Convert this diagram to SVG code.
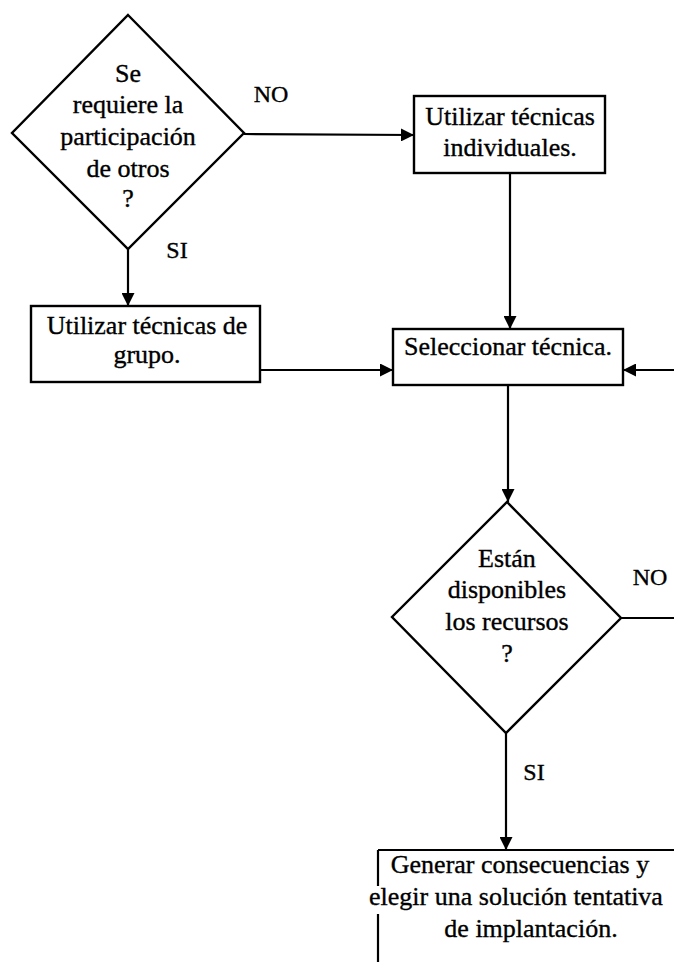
<svg xmlns="http://www.w3.org/2000/svg" width="674" height="962" viewBox="0 0 674 962">
  <style>
    .shape { fill: #ffffff; stroke: #000000; stroke-width: 2.4; }
    .edge { fill: none; stroke: #000000; stroke-width: 2.2; }
    .label { font-family: "Liberation Serif", "Times New Roman", serif; font-size: 26px; fill: #000000; stroke: #000000; stroke-width: 0.35; text-anchor: middle; }
    .tag { font-family: "Liberation Serif", "Times New Roman", serif; font-size: 24px; fill: #000000; stroke: #000000; stroke-width: 0.35; text-anchor: middle; }
  </style>
  <defs>
    <marker id="arrow" viewBox="0 0 10 10" refX="10" refY="5" markerWidth="13" markerHeight="13" markerUnits="userSpaceOnUse" orient="auto">
      <path d="M0,0 L10,5 L0,10 Z" fill="#000000"/>
    </marker>
  </defs>
  <rect width="674" height="962" fill="#ffffff"/>

  <!-- connectors -->
  <g id="connectors">
    <line class="edge" x1="244" y1="134" x2="414" y2="135" marker-end="url(#arrow)"/>
    <line class="edge" x1="128" y1="249" x2="128" y2="306" marker-end="url(#arrow)"/>
    <line class="edge" x1="510" y1="173" x2="510" y2="329" marker-end="url(#arrow)"/>
    <line class="edge" x1="260" y1="370" x2="393" y2="370" marker-end="url(#arrow)"/>
    <line class="edge" x1="674" y1="370" x2="623" y2="370" marker-end="url(#arrow)"/>
    <line class="edge" x1="508" y1="385" x2="508" y2="502" marker-end="url(#arrow)"/>
    <line class="edge" x1="621" y1="618" x2="674" y2="618"/>
    <line class="edge" x1="506" y1="733" x2="506" y2="850" marker-end="url(#arrow)"/>
    <text class="tag" x="271" y="102">NO</text>
    <text class="tag" x="177" y="258">SI</text>
    <text class="tag" x="650" y="585">NO</text>
    <text class="tag" x="534" y="780">SI</text>
  </g>

  <!-- decision: participation of others -->
  <g id="decision-participacion">
    <polygon class="shape" points="128,15 244,133 128,249 12,133"/>
    <text class="label" x="128" y="82">Se</text>
    <text class="label" x="128" y="113">requiere la</text>
    <text class="label" x="128" y="145">participación</text>
    <text class="label" x="128" y="177">de otros</text>
    <text class="label" x="128" y="207">?</text>
  </g>

  <!-- individual techniques -->
  <g id="tecnicas-individuales">
    <rect class="shape" x="414" y="96" width="191" height="77"/>
    <text class="label" x="510" y="125">Utilizar técnicas</text>
    <text class="label" x="510" y="156">individuales.</text>
  </g>

  <!-- group techniques -->
  <g id="tecnicas-grupo">
    <rect class="shape" x="31" y="306" width="229" height="76"/>
    <text class="label" x="147" y="334">Utilizar técnicas de</text>
    <text class="label" x="147" y="363">grupo.</text>
  </g>

  <!-- select technique -->
  <g id="seleccionar-tecnica">
    <rect class="shape" x="393" y="329" width="230" height="56"/>
    <text class="label" x="508" y="355">Seleccionar técnica.</text>
  </g>

  <!-- decision: resources available -->
  <g id="decision-recursos">
    <polygon class="shape" points="507,502 621,618 506,733 392,617"/>
    <text class="label" x="507" y="567">Están</text>
    <text class="label" x="507" y="598">disponibles</text>
    <text class="label" x="507" y="630">los recursos</text>
    <text class="label" x="507" y="662">?</text>
  </g>

  <!-- generate consequences (box runs past the lower and right edges) -->
  <g id="generar-consecuencias">
    <line class="edge" x1="378" y1="850" x2="674" y2="850"/>
    <line class="edge" x1="378" y1="850" x2="378" y2="886"/>
    <line class="edge" x1="378" y1="914" x2="378" y2="962"/>
    <text class="label" x="520" y="873">Generar consecuencias y</text>
    <text class="label" x="516" y="905">elegir una solución tentativa</text>
    <text class="label" x="531" y="937">de implantación.</text>
  </g>
</svg>
